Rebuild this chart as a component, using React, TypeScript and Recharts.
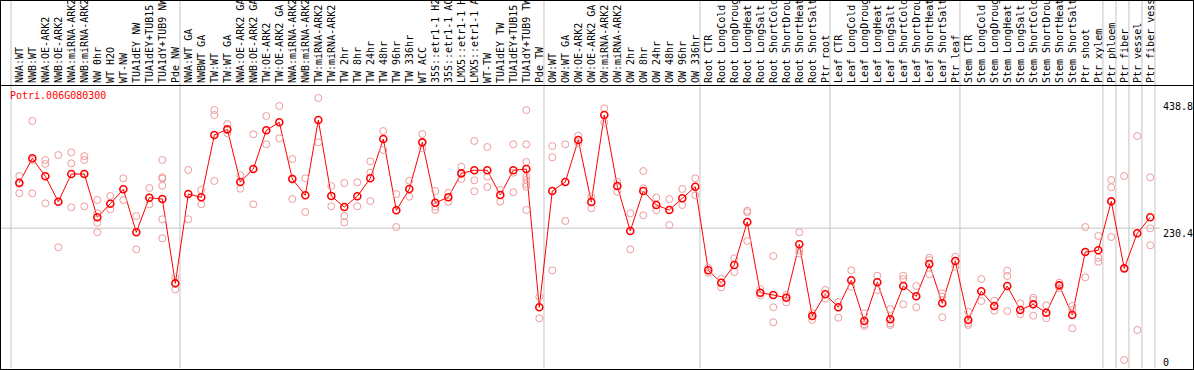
import { ComposedChart, Line, ReferenceLine, Scatter, XAxis, YAxis } from 'recharts'

const geneId = 'Potri.006G080300'

const labels = [
  'NWA:WT', 'NWB:WT', 'NWA:OE-ARK2', 'NWB:OE-ARK2', 'NWA:miRNA-ARK2', 'NWB:miRNA-ARK2',
  'NW 0hr', 'WT H2O', 'WT-NW', 'TUA1dEY NW', 'TUA1dEY+TUB15 NW', 'TUA1dY+TUB9 NW', 'Pde NW',
  'NWA:WT GA', 'NWBWT GA', 'TW:WT', 'TW:WT GA', 'NWA:OE-ARK2 GA', 'NWB:OE-ARK2 GA',
  'TW:OE-ARK2', 'TW:OE-ARK2 GA', 'NWA:miRNA-ARK2 GA', 'NWB:miRNA-ARK2 GA', 'TW:miRNA-ARK2 GA',
  'TW:miRNA-ARK2', 'TW 2hr', 'TW 8hr', 'TW 24hr', 'TW 48hr', 'TW 96hr', 'TW 336hr', 'WT ACC',
  '35S::etr1-1 H2O', '35S::etr1-1 ACC', 'LMX5::etr1-1 H2O', 'LMX5::etr1-1 ACC', 'WT-TW',
  'TUA1dEY TW', 'TUA1dEY+TUB15 TW', 'TUA1dY+TUB9 TW', 'Pde TW',
  'OW:WT', 'OW:WT GA', 'OW:OE-ARK2', 'OW:OE-ARK2 GA', 'OW:miRNA-ARK2', 'OW:miRNA-ARK2',
  'OW 2hr', 'OW 8hr', 'OW 24hr', 'OW 48hr', 'OW 96hr', 'OW 336hr',
  'Root CTR', 'Root LongCold', 'Root LongDrought', 'Root LongHeat', 'Root LongSalt',
  'Root ShortCold', 'Root ShortDrought', 'Root ShortHeat', 'Root ShortSalt', 'Ptr root',
  'Leaf CTR', 'Leaf LongCold', 'Leaf LongDrought', 'Leaf LongHeat', 'Leaf LongSalt',
  'Leaf ShortCold', 'Leaf ShortDrought', 'Leaf ShortHeat', 'Leaf ShortSalt', 'Ptr leaf',
  'Stem CTR', 'Stem LongCold', 'Stem LongDrought', 'Stem LongHeat', 'Stem LongSalt',
  'Stem ShortCold', 'Stem ShortDrought', 'Stem ShortHeat', 'Stem ShortSalt', 'Ptr shoot',
  'Ptr xylem', 'Ptr phloem', 'Ptr fiber', 'Ptr vessel', 'Ptr fiber vessel',
]

const means = [
  305.3, 345.5, 315.8, 274.0, 319.6, 319.6, 248.3, 270.7, 294.4, 223.6, 280.6, 278.4, 139.5,
  286.6, 281.2, 383.8, 393.2, 306.4, 327.8, 391.6, 404.8, 311.4, 284.5, 408.6, 283.4, 265.2,
  282.9, 312.5, 377.3, 259.8, 294.9, 371.8, 272.3, 281.2, 320.7, 325.7, 325.7, 285.0, 325.7,
  327.8, 100.0,
  291.6, 306.4, 375.6, 273.5, 416.8, 299.8, 225.7, 291.6, 268.5, 260.3, 279.6, 298.7,
  161.0, 140.5, 169.7, 240.5, 124.1, 120.3, 115.8, 203.8, 85.7, 121.4,
  100.0, 144.5, 77.4, 141.2, 80.2, 135.1, 118.1, 171.3, 106.6, 176.3,
  79.1, 126.4, 102.1, 135.1, 95.5, 104.9, 91.1, 136.2, 87.3, 191.1, 193.9,
  274.6, 164.2, 221.9, 248.3,
]

// individual samples per column, same order as labels
const replicates = [
  [316.3, 303.1, 287.8], [406.9, 342.7, 287.8], [342.7, 336.1, 271.3], [350.9, 198.8],
  [355.3, 337.2, 264.7], [349.2, 342.7, 266.4], [276.8, 254.9, 239.4, 223.6], [283.4, 261.4],
  [312.5, 276.8], [250.4, 195.5], [296.5, 269.7, 280.6],
  [342.7, 314.2, 311.9, 300.3, 245.0, 213.7], [149.9, 129.6],
  [326.2, 245.0], [293.2, 269.7], [425.0, 416.8, 308.1], [402.0, 386.6], [317.5, 295.4],
  [385.0, 269.7], [415.1, 368.5], [431.6, 378.4], [344.3, 312.5, 278.4], [312.5, 257.0],
  [444.8, 371.8], [299.8, 266.4], [304.8, 250.4, 240.0], [305.9, 266.4],
  [340.5, 321.7, 275.1], [390.4, 359.1], [286.6, 232.3], [308.6, 282.2], [385.5, 361.9],
  [291.6, 265.7, 260.3], [288.8, 274.0], [331.6, 311.4], [374.0, 309.2, 291.1],
  [364.1, 315.2, 298.2], [293.2, 274.0], [368.5, 321.7, 289.5],
  [425.0, 368.5, 339.4, 315.2, 309.7, 303.1, 298.7, 260.3], [117.5, 81.9],
  [365.7, 347.1, 161.0], [368.5, 242.2], [382.7, 370.2], [282.2, 263.1], [427.8, 404.8],
  [306.9, 290.4], [254.9, 195.5], [324.5, 296.0, 251.6], [280.6, 260.3], [278.4, 235.6],
  [294.9, 268.5], [312.5, 284.5],
  [157.0, 165.0], [147.1, 132.9], [180.7, 158.2], [259.1, 256.5, 209.2], [130.1, 119.8],
  [184.5, 100.0, 75.3], [120.3, 108.2], [223.6, 194.4, 189.0], [90.1, 79.1], [128.5, 114.3],
  [108.7, 82.9], [161.0, 133.9], [90.1, 72.0, 69.2], [152.1, 128.5], [97.2, 73.6, 70.8],
  [152.1, 146.6, 104.9], [135.1, 100.0], [181.7, 177.9, 154.4], [123.1, 117.5, 83.5],
  [183.4, 166.9],
  [92.7, 73.6, 70.8], [146.6, 110.4], [110.9, 94.4], [160.3, 151.6, 93.9], [106.6, 88.5],
  [115.8, 86.2, 112.0], [103.3, 81.9], [140.5, 131.9], [102.1, 95.5, 65.4], [232.3, 149.4],
  [217.5, 181.7, 175.1],
  [309.7, 297.7, 215.8], [316.3, 13.2], [382.2, 62.6], [314.2, 230.1, 202.1],
]

// first column of each block (gray separators)
const groupStarts = [0, 13, 41, 53, 63, 73, 84, 85, 86, 87, 88]
const yTicks = [0, 230.4, 438.8]

const W = 1194
const H = 370
const HEADER = 85
const Y_TOP = 606.3
const X_MIN = -1.41
const X_MAX = 87.75
const FONT = '"DejaVu Sans Mono", monospace'
const GRAY = '#c4c4c4'
const PINK = '#ef9a9a'

const rows = means.map((mean, i) => ({ i, mean }))
const samplePoints = replicates.flatMap((vals, i) => vals.map((v) => ({ i, v })))

function HeaderTick({ x, payload }: any) {
  const y = HEADER - 2
  return (
    <text
      x={x}
      y={y}
      dy="0.35em"
      transform={`rotate(-90, ${x}, ${y})`}
      fontSize={10}
      fontFamily={FONT}
      fill="#000"
    >
      {labels[payload.value]}
    </text>
  )
}

function ValueTick({ x, y, payload }: any) {
  const shift = payload.value === 0 ? -6 : 5
  return (
    <text
      x={x}
      y={y + shift}
      dominantBaseline="central"
      fontSize={10}
      fontFamily={FONT}
      fill="#000"
    >
      {payload.value}
    </text>
  )
}

export default function App() {
  return (
    <div
      style={{
        position: 'absolute',
        left: 0,
        top: 0,
        width: W,
        height: H,
        background: '#fff',
      }}
    >
      <ComposedChart
        width={W}
        height={H}
        data={rows}
        margin={{ top: -1, right: 0, bottom: 2, left: 1 }}
      >
        <XAxis
          dataKey="i"
          type="number"
          orientation="top"
          height={1}
          domain={[X_MIN, X_MAX]}
          ticks={rows.map((r) => r.i)}
          interval={0}
          axisLine={false}
          tickLine={false}
          tick={<HeaderTick />}
        />
        <YAxis
          type="number"
          orientation="right"
          width={34}
          domain={[0, Y_TOP]}
          ticks={yTicks}
          interval={0}
          axisLine={false}
          tickLine={false}
          tickSize={0}
          tickMargin={3}
          tick={<ValueTick />}
        />
        {groupStarts.map((s) => (
          <ReferenceLine key={s} x={s - 0.64} stroke={GRAY} strokeWidth={1} />
        ))}
        <ReferenceLine y={230.4} stroke={GRAY} strokeWidth={1} />
        <Scatter
          data={samplePoints}
          dataKey="v"
          isAnimationActive={false}
          shape={(p: any) => (
            <circle cx={p.cx} cy={p.cy} r={3.5} fill="none" stroke={PINK} strokeWidth={1} />
          )}
        />
        <Line
          dataKey="mean"
          stroke="#ff0000"
          strokeWidth={1}
          isAnimationActive={false}
          dot={(p: any) => (
            <circle
              key={p.index}
              cx={p.cx}
              cy={p.cy}
              r={3.5}
              fill="none"
              stroke="#ff0000"
              strokeWidth={1.6}
            />
          )}
        />
      </ComposedChart>
      <div
        style={{
          position: 'absolute',
          left: 10,
          top: 91,
          fontFamily: FONT,
          fontSize: 10,
          lineHeight: '10px',
          color: '#ff0000',
          whiteSpace: 'nowrap',
        }}
      >
        {geneId}
      </div>
      <div
        style={{
          position: 'absolute',
          left: 0,
          top: HEADER,
          width: W,
          height: 1,
          background: '#000',
        }}
      />
      <div
        style={{
          position: 'absolute',
          left: 0,
          top: 0,
          width: W,
          height: H,
          boxSizing: 'border-box',
          border: '1px solid #000',
          pointerEvents: 'none',
        }}
      />
    </div>
  )
}
